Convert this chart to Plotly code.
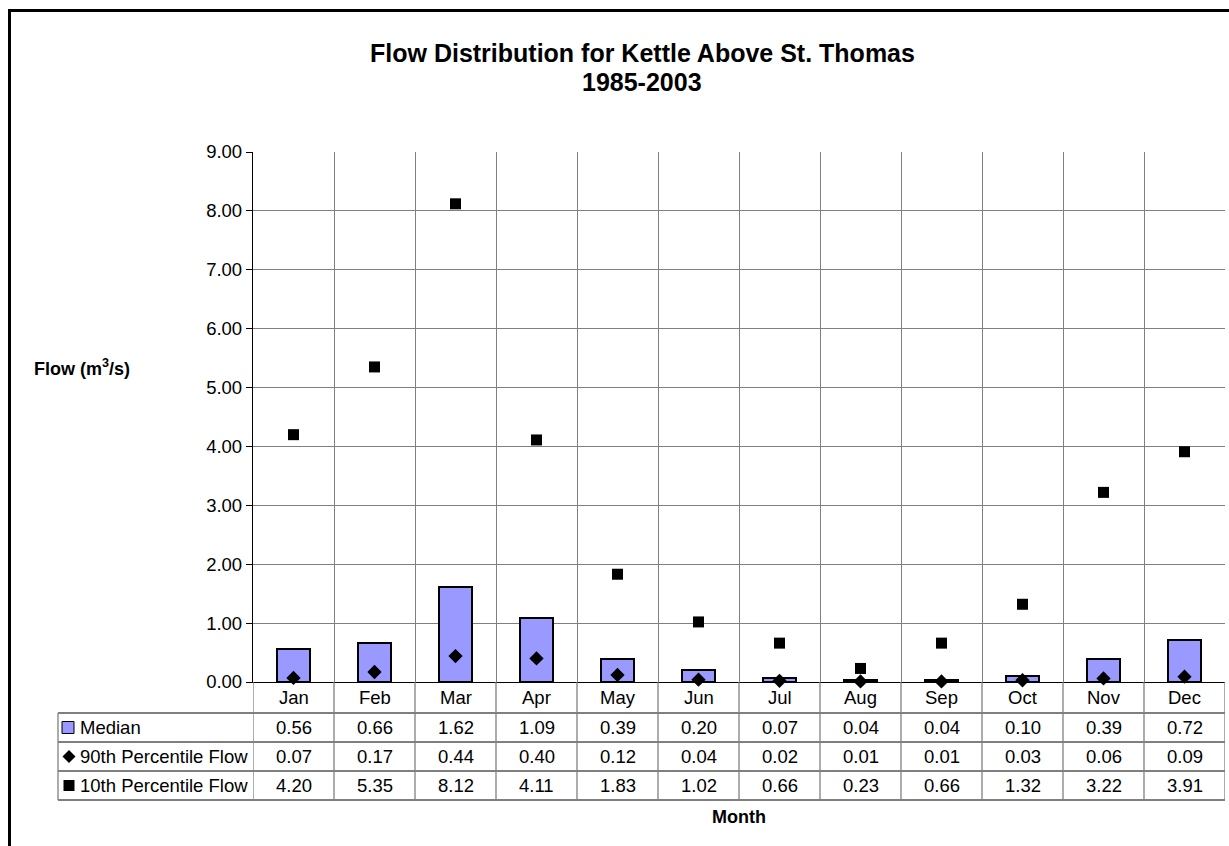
import plotly.graph_objects as go

months = ["Jan", "Feb", "Mar", "Apr", "May", "Jun", "Jul", "Aug", "Sep", "Oct", "Nov", "Dec"]
median = [0.56, 0.66, 1.62, 1.09, 0.39, 0.20, 0.07, 0.04, 0.04, 0.10, 0.39, 0.72]
p90 = [0.07, 0.17, 0.44, 0.40, 0.12, 0.04, 0.02, 0.01, 0.01, 0.03, 0.06, 0.09]
p10 = [4.20, 5.35, 8.12, 4.11, 1.83, 1.02, 0.66, 0.23, 0.66, 1.32, 3.22, 3.91]
series_names = ["Median", "90th Percentile Flow", "10th Percentile Flow"]

W, H = 1229, 846
L, R, T, B = 253, 1225, 152, 682
FONT = "Liberation Sans, Arial, sans-serif"
FS = 18.5

def pxx(p):
    return (p - L) / (R - L)

def pxy(p):
    return (B - p) / (B - T)

xs = list(range(len(months)))

fig = go.Figure()
fig.add_trace(go.Bar(x=xs, y=median, width=0.41, name=series_names[0],
                     marker=dict(color="#9999FF", line=dict(color="black", width=2))))
fig.add_trace(go.Scatter(x=xs, y=p90, mode="markers", name=series_names[1], cliponaxis=False,
                         marker=dict(symbol="diamond", size=11, color="black")))
fig.add_trace(go.Scatter(x=xs, y=p10, mode="markers", name=series_names[2], cliponaxis=False,
                         marker=dict(symbol="square", size=11, color="black")))

shapes = []
annotations = []

# outer chart border
shapes.append(dict(type="rect", xref="paper", yref="paper",
                   x0=pxx(9.5), x1=pxx(1245), y0=pxy(10.5), y1=pxy(870),
                   line=dict(color="black", width=3)))

# table rows (pixel boundaries)
row_edges = [682, 713, 742, 771, 800]
for yb in row_edges[1:]:
    shapes.append(dict(type="line", xref="paper", yref="paper",
                       x0=pxx(58), x1=1, y0=pxy(yb), y1=pxy(yb),
                       line=dict(color="black", width=1)))
for k in range(len(months) + 1):
    shapes.append(dict(type="line", xref="x", yref="paper",
                       x0=k - 0.5, x1=k - 0.5, y0=pxy(682), y1=pxy(800),
                       line=dict(color="#808080", width=1.3)))
shapes.append(dict(type="line", xref="paper", yref="paper",
                   x0=pxx(58), x1=pxx(58), y0=pxy(713), y1=pxy(800),
                   line=dict(color="#808080", width=1.3)))

rows = [median, p90, p10]
for i, m in enumerate(months):
    annotations.append(dict(x=i, y=pxy((682 + 713) / 2), xref="x", yref="paper",
                            text=m, showarrow=False, xanchor="center", yanchor="middle",
                            font=dict(size=FS, color="black", family=FONT)))
    for r, vals in enumerate(rows):
        yc = (row_edges[r + 1] + row_edges[r + 2]) / 2
        annotations.append(dict(x=i, y=pxy(yc), xref="x", yref="paper",
                                text=f"{vals[i]:.2f}", showarrow=False,
                                xanchor="center", yanchor="middle",
                                font=dict(size=FS, color="black", family=FONT)))

for r, name in enumerate(series_names):
    yc = (row_edges[r + 1] + row_edges[r + 2]) / 2
    annotations.append(dict(x=pxx(78), y=pxy(yc), xref="paper", yref="paper",
                            text=name, showarrow=False, xanchor="left", yanchor="middle",
                            font=dict(size=FS, color="black", family=FONT)))
yc0 = (713 + 742) / 2
shapes.append(dict(type="rect", xref="paper", yref="paper",
                   x0=pxx(62), x1=pxx(74), y0=pxy(yc0 - 6), y1=pxy(yc0 + 6),
                   fillcolor="#9999FF", line=dict(color="black", width=1)))
yc1 = (742 + 771) / 2
cx = 69
d = 6.5
path = (f"M {pxx(cx - d)},{pxy(yc1)} L {pxx(cx)},{pxy(yc1 - d)} "
        f"L {pxx(cx + d)},{pxy(yc1)} L {pxx(cx)},{pxy(yc1 + d)} Z")
shapes.append(dict(type="path", xref="paper", yref="paper", path=path,
                   fillcolor="black", line=dict(color="black", width=0)))
yc2 = (771 + 800) / 2
shapes.append(dict(type="rect", xref="paper", yref="paper",
                   x0=pxx(63.5), x1=pxx(74.5), y0=pxy(yc2 - 5.5), y1=pxy(yc2 + 5.5),
                   fillcolor="black", line=dict(color="black", width=0)))

annotations.append(dict(x=pxx(642), y=pxy(53), xref="paper", yref="paper",
                        text="<b>Flow Distribution for Kettle Above St. Thomas</b>",
                        showarrow=False, xanchor="center", yanchor="middle",
                        font=dict(size=25, color="black", family=FONT)))
annotations.append(dict(x=pxx(642), y=pxy(82), xref="paper", yref="paper",
                        text="<b>1985-2003</b>",
                        showarrow=False, xanchor="center", yanchor="middle",
                        font=dict(size=25, color="black", family=FONT)))
annotations.append(dict(x=pxx(32), y=pxy(367), xref="paper", yref="paper",
                        text="<b>Flow (m<sup>3</sup>/s)</b>",
                        showarrow=False, xanchor="left", yanchor="middle",
                        font=dict(size=18, color="black", family=FONT)))
annotations.append(dict(x=pxx(739), y=pxy(817), xref="paper", yref="paper",
                        text="<b>Month</b>",
                        showarrow=False, xanchor="center", yanchor="middle",
                        font=dict(size=18, color="black", family=FONT)))

fig.update_layout(
    width=W, height=H,
    margin=dict(l=L, r=W - R, t=T, b=H - B, pad=0),
    paper_bgcolor="white", plot_bgcolor="white",
    showlegend=False,
    bargap=0,
    font=dict(family=FONT, size=FS, color="black"),
    xaxis=dict(range=[-0.5, len(months) - 0.5], tickvals=[k - 0.5 for k in range(len(months) + 1)],
               showticklabels=False, ticks="", showgrid=True, gridcolor="#808080", gridwidth=1,
               showline=True, linecolor="black", linewidth=1.3, zeroline=False, fixedrange=True),
    yaxis=dict(range=[0, 9], dtick=1, tick0=0, tickformat=".2f", ticks="outside", ticklen=6,
               tickcolor="black", showgrid=True, gridcolor="#808080", gridwidth=1,
               showline=True, linecolor="black", linewidth=1.3, zeroline=False,
               tickfont=dict(size=FS, family=FONT, color="black"), fixedrange=True),
    shapes=shapes,
    annotations=annotations,
)

fig.write_html("out.html")
